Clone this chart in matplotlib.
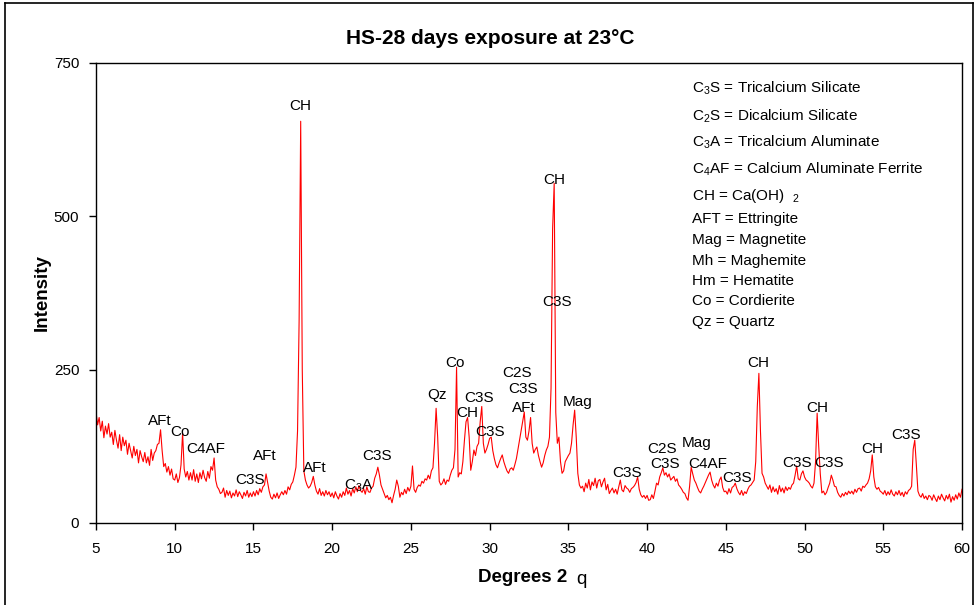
import numpy as np
import matplotlib
matplotlib.use('agg')
import matplotlib.pyplot as plt
from matplotlib.lines import Line2D

plt.rcParams['font.family'] = ['Liberation Sans', 'DejaVu Sans']
plt.rcParams['mathtext.fontset'] = 'custom'
plt.rcParams['mathtext.rm'] = 'Liberation Sans'
plt.rcParams['mathtext.default'] = 'regular'

# scan grid, 0.1 deg steps from 5 to 60
two_theta = np.round(np.arange(5.0, 60.05, 0.1), 1)

# intensity, one row per degree
intensity = [
    181, 160, 172, 150, 166, 139, 158, 145, 162, 140,   # 5
    148, 128, 151, 135, 122, 144, 118, 140, 126, 135,   # 6
    112, 130, 118, 106, 125, 110, 120, 98, 118, 108,    # 7
    100, 115, 98, 108, 94, 120, 102, 114, 118, 128,     # 8
    130, 152, 118, 92, 97, 83, 92, 78, 88, 72,          # 9
    70, 80, 66, 74, 95, 147, 88, 75, 84, 70,            # 10
    82, 70, 87, 68, 80, 66, 82, 72, 86, 74,             # 11
    68, 84, 73, 92, 86, 106, 70, 59, 55, 48,            # 12
    50, 57, 42, 53, 45, 52, 41, 49, 44, 54,             # 13
    43, 51, 46, 40, 50, 44, 53, 42, 49, 43,             # 14
    51, 44, 53, 46, 56, 50, 59, 62, 80, 66,             # 15
    52, 42, 39, 47, 41, 49, 40, 46, 51, 46,             # 16
    53, 47, 59, 54, 63, 67, 78, 91, 150, 330,           # 17
    655, 250, 85, 70, 62, 57, 60, 66, 76, 62,           # 18
    52, 47, 56, 45, 51, 44, 53, 46, 51, 43,             # 19
    49, 41, 51, 44, 39, 48, 42, 51, 45, 57,             # 20
    47, 53, 44, 56, 49, 59, 51, 61, 53, 50,             # 21
    56, 47, 59, 51, 50, 57, 60, 73, 80, 91,             # 22
    78, 62, 55, 48, 41, 45, 38, 42, 33, 45,             # 23
    55, 70, 60, 42, 50, 46, 55, 48, 58, 52,             # 24
    60, 93, 55, 50, 58, 62, 60, 68, 65, 72,             # 25
    70, 78, 72, 85, 90, 130, 187, 140, 68, 62,          # 26
    65, 72, 63, 70, 68, 78, 86, 90, 120, 254,           # 27
    75, 82, 80, 100, 135, 165, 172, 140, 86, 100,       # 28
    119, 110, 125, 130, 165, 190, 130, 114, 120, 128,   # 29
    138, 140, 118, 105, 95, 90, 98, 105, 111, 100,      # 30
    92, 85, 81, 88, 90, 86, 95, 105, 120, 135,          # 31
    150, 165, 181, 140, 135, 150, 172, 130, 114, 120,   # 32
    124, 110, 100, 91, 98, 110, 119, 125, 140, 220,     # 33
    480, 554, 180, 130, 140, 100, 81, 85, 100, 105,     # 34
    110, 114, 130, 160, 184, 140, 81, 62, 57, 60,       # 35
    51, 65, 57, 71, 54, 67, 61, 73, 57, 69,             # 36
    71, 59, 67, 73, 54, 63, 48, 53, 57, 49,             # 37
    55, 47, 59, 70, 54, 51, 61, 57, 55, 50,             # 38
    56, 58, 61, 66, 75, 55, 46, 42, 45, 40,             # 39
    45, 37, 38, 46, 40, 52, 65, 62, 75, 82,             # 40
    90, 78, 82, 75, 80, 70, 73, 76, 68, 72,             # 41
    62, 59, 55, 50, 48, 41, 37, 60, 91, 80,             # 42
    70, 65, 58, 52, 49, 55, 60, 66, 72, 78,             # 43
    83, 70, 62, 57, 65, 60, 70, 75, 58, 51,             # 44
    52, 47, 56, 49, 58, 60, 65, 56, 50, 46,             # 45
    53, 45, 51, 48, 55, 60, 62, 66, 70, 100,            # 46
    190, 244, 150, 81, 75, 65, 60, 55, 62, 50,          # 47
    59, 51, 56, 47, 61, 51, 57, 49, 59, 53,             # 48
    58, 55, 62, 65, 78, 93, 72, 70, 80, 85,             # 49
    75, 70, 68, 65, 60, 57, 65, 100, 179, 125,          # 50
    80, 49, 52, 46, 50, 58, 65, 78, 70, 60,             # 51
    59, 50, 45, 42, 48, 44, 50, 46, 52, 48,             # 52
    52, 47, 55, 50, 56, 57, 52, 60, 58, 62,             # 53
    65, 72, 85, 111, 75, 59, 55, 58, 52, 50,            # 54
    47, 53, 45, 51, 46, 54, 47, 44, 51, 46,             # 55
    53, 45, 50, 43, 51, 47, 53, 55, 60, 120,            # 56
    135, 95, 52, 45, 42, 48, 40, 44, 38, 45,            # 57
    43, 37, 46, 40, 35, 44, 38, 47, 41, 36,             # 58
    45, 39, 47, 34, 43, 37, 46, 39, 49, 42,             # 59
    55,                                                 # 60
]

# peak labels: text, 2theta, intensity where the label sits
peak_labels = ['AFt', 'Co', 'C4AF', 'C3S', 'AFt', 'CH', 'AFt', 'C$_3$A', 'C3S',
               'Qz', 'Co', 'CH', 'C3S', 'C3S', 'C2S', 'C3S', 'AFt', 'CH', 'C3S',
               'Mag', 'C3S', 'C2S', 'C3S', 'Mag', 'C4AF', 'C3S', 'CH', 'C3S',
               'CH', 'C3S', 'CH', 'C3S']
label_x = [9.06, 10.34, 11.95, 14.78, 15.73, 17.96, 18.91, 21.7, 22.85,
           26.66, 27.8, 28.6, 29.33, 30.02, 31.72, 32.12, 32.18, 34.09, 34.28,
           35.6, 38.72, 40.97, 41.16, 43.17, 43.87, 45.71, 47.05, 49.52,
           50.79, 51.55, 54.29, 56.47]
label_y = [167, 148, 121, 70, 110, 680, 90, 60, 109,
           209, 261, 179, 204, 148, 245, 219, 187, 559, 360,
           197, 82, 121, 96, 130, 96, 74, 261, 98,
           188, 98, 121, 143]

key_lines = ['C$_3$S = Tricalcium Silicate',
             'C$_2$S = Dicalcium Silicate',
             'C$_3$A = Tricalcium Aluminate',
             'C$_4$AF = Calcium Aluminate Ferrite',
             'CH = Ca(OH)  $_2$',
             'AFT = Ettringite',
             'Mag = Magnetite',
             'Mh = Maghemite',
             'Hm = Hematite',
             'Co = Cordierite',
             'Qz = Quartz']
key_rows_px = [88, 116, 142, 169, 196, 219, 240, 261, 281, 301, 322]


def main():
    W, H = 975, 605
    fig = plt.figure(figsize=(W / 100, H / 100), dpi=100)
    ax = fig.add_axes([96 / W, 1 - 523 / H, (962 - 96) / W, (523 - 63) / H])

    ax.plot(two_theta, intensity, color='#ff0000', lw=0.8)
    ax.set_xlim(5, 60)
    ax.set_ylim(0, 750)
    ax.set_xticks(np.arange(5, 61, 5))
    ax.set_yticks([0, 250, 500, 750])
    ax.tick_params(direction='out', length=5, width=1, labelsize=11)
    ax.tick_params(axis='x', pad=9)
    ax.tick_params(axis='y', pad=7)
    for s in ax.spines.values():
        s.set_linewidth(1.0)

    for t, x, y in zip(peak_labels, label_x, label_y):
        ax.text(x, y, t, fontsize=11, ha='center', va='center')

    for t, yp in zip(key_lines, key_rows_px):
        fig.text(692 / W, 1 - yp / H, t, fontsize=11, ha='left', va='center')

    fig.text(490 / W, 1 - 38 / H, 'HS-28 days exposure at 23°C',
             fontsize=15, fontweight='bold', ha='center', va='center')
    fig.text(523 / W, 1 - 577 / H, 'Degrees 2', fontsize=13.5,
             fontweight='bold', ha='center', va='center')
    fig.text(581 / W, 1 - 580 / H, 'q', fontsize=13.5, ha='center', va='center')
    fig.text(42 / W, 1 - 293 / H, 'Intensity', fontsize=13.5,
             fontweight='bold', rotation=90, ha='center', va='center')

    # outer chart frame
    for xs, ys in [([5, 5], [3, 640]), ([5, 973], [3, 3]), ([973, 973], [3, 640])]:
        fig.add_artist(Line2D([x / W for x in xs], [1 - y / H for y in ys],
                              color='black', lw=1.2, transform=fig.transFigure))

    fig.savefig('out.png', dpi=100)


if __name__ == '__main__':
    main()
